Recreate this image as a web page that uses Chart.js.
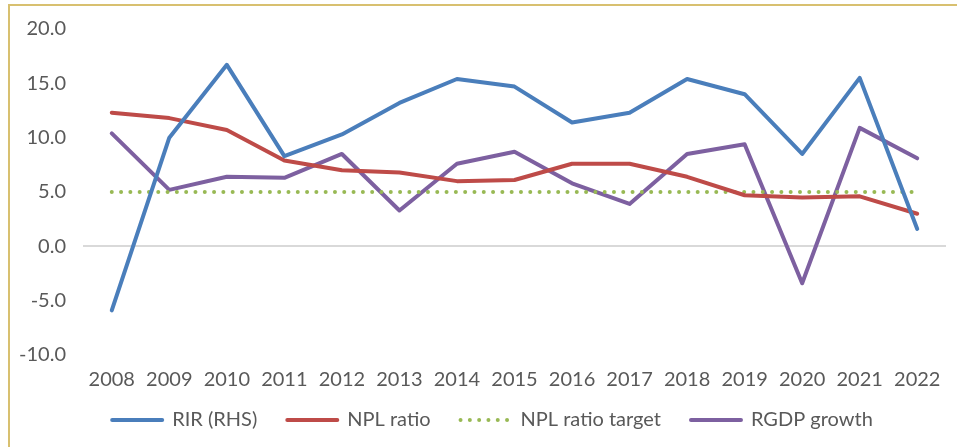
<!DOCTYPE html>
<html>
<head>
<meta charset="utf-8">
<script src="https://cdn.jsdelivr.net/npm/chart.js@4"></script>
<style>
  html, body { margin: 0; padding: 0; background: #fff; }
  #wrap { position: relative; width: 957px; height: 447px; }
  #frame { position: absolute; left: 8px; top: 4px; width: 960px; height: 460px;
           border-top: 2px solid #D8C070; border-left: 2px solid #D8C070; box-sizing: border-box; }
  canvas { position: absolute; left: 0; top: 0; }
</style>
</head>
<body>
<div id="wrap">
  <div id="frame"></div>
  <canvas id="c" width="957" height="447"></canvas>
</div>
<script>
const years = ['2008','2009','2010','2011','2012','2013','2014','2015','2016','2017','2018','2019','2020','2021','2022'];
const rir = [-5.9, 10.0, 16.7, 8.3, 10.3, 13.2, 15.4, 14.7, 11.4, 12.3, 15.4, 14.0, 8.5, 15.5, 1.6];
const nplRatio = [12.3, 11.8, 10.7, 7.9, 7.0, 6.8, 6.0, 6.1, 7.6, 7.6, 6.4, 4.7, 4.5, 4.6, 3.0];
const nplTarget = [5.0, 5.0, 5.0, 5.0, 5.0, 5.0, 5.0, 5.0, 5.0, 5.0, 5.0, 5.0, 5.0, 5.0, 5.0];
const rgdp = [10.4, 5.2, 6.4, 6.3, 8.5, 3.3, 7.6, 8.7, 5.8, 3.9, 8.5, 9.4, -3.4, 10.9, 8.1];
const seriesNames = ['RIR (RHS)', 'NPL ratio', 'NPL ratio target', 'RGDP growth'];
const yMin = -10, yMax = 20, yStep = 5;

const FONT = 'Lato, "Open Sans", sans-serif';
const TXT = '#595959';
const LEGEND_H = 52;
const LEGEND_DX = 13, LEGEND_DY = -15;

const legendFix = {
  id: 'legendFix',
  afterInit(chart) {
    const lg = chart.legend;
    if (!lg) return;
    const f = lg.fit;
    lg.fit = function () { f.call(this); this.height = LEGEND_H; };
  },
  afterLayout(chart) {
    const lg = chart.legend;
    if (!lg) return;
    lg.left += LEGEND_DX; lg.right += LEGEND_DX;
    lg.top += LEGEND_DY; lg.bottom += LEGEND_DY;
  }
};

new Chart(document.getElementById('c'), {
  type: 'line',
  data: {
    labels: years,
    datasets: [
      { label: seriesNames[0], data: rir, borderColor: '#4A7EBB', backgroundColor: '#4A7EBB', borderWidth: 4, pointRadius: 0, tension: 0, borderCapStyle: 'round', borderJoinStyle: 'round' },
      { label: seriesNames[1], data: nplRatio, borderColor: '#BE4B48', backgroundColor: '#BE4B48', borderWidth: 4, pointRadius: 0, tension: 0, borderCapStyle: 'round', borderJoinStyle: 'round' },
      { label: seriesNames[2], data: nplTarget, borderColor: '#98B954', backgroundColor: '#98B954', borderWidth: 4, pointRadius: 0, tension: 0, borderCapStyle: 'round', borderDash: [0, 9.3] },
      { label: seriesNames[3], data: rgdp, borderColor: '#7D60A0', backgroundColor: '#7D60A0', borderWidth: 4, pointRadius: 0, tension: 0, borderCapStyle: 'round', borderJoinStyle: 'round' }
    ]
  },
  plugins: [legendFix],
  options: {
    responsive: false,
    animation: false,
    layout: { padding: { left: 13, right: 11, top: 18, bottom: 0 } },
    scales: {
      x: {
        type: 'category',
        offset: true,
        grid: { display: false, drawTicks: false },
        border: { display: false },
        ticks: { color: TXT, font: { family: FONT, size: 20 }, padding: 13, maxRotation: 0, autoSkip: false },
        afterFit: s => { s.height = 40; }
      },
      y: {
        min: yMin, max: yMax,
        ticks: { stepSize: yStep, color: TXT, font: { family: FONT, size: 20 }, padding: 17,
                 callback: v => Number(v).toFixed(1) },
        grid: { drawTicks: false, lineWidth: 2, color: ctx => (ctx.tick && ctx.tick.value === 0) ? '#D9D9D9' : 'rgba(0,0,0,0)' },
        border: { display: false },
        afterFit: s => { s.width = 70; }
      }
    },
    plugins: {
      legend: {
        position: 'bottom',
        labels: {
          usePointStyle: true, pointStyle: 'line', pointStyleWidth: 50, color: TXT,
          font: { family: FONT, size: 20 }, padding: 30,
          generateLabels: chart => chart.data.datasets.map((ds, i) => ({
            text: ds.label,
            datasetIndex: i,
            hidden: !chart.isDatasetVisible(i),
            fillStyle: ds.borderColor,
            strokeStyle: ds.borderColor,
            fontColor: TXT,
            lineWidth: ds.borderWidth,
            lineCap: ds.borderCapStyle || 'butt',
            lineDash: ds.borderDash || [],
            lineDashOffset: 0,
            lineJoin: 'round',
            pointStyle: 'line',
            rotation: 0
          }))
        }
      },
      tooltip: { enabled: false }
    }
  }
});
</script>
</body>
</html>
